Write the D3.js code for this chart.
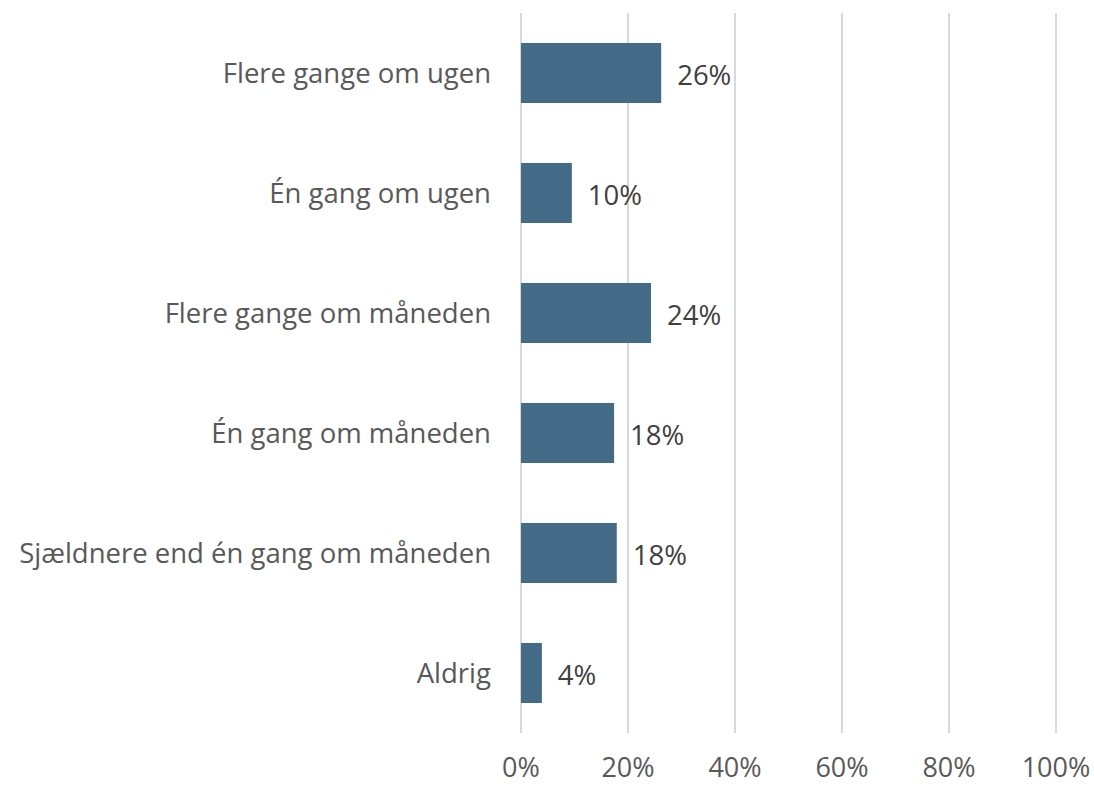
<!DOCTYPE html>
<html>
<head>
<meta charset="utf-8">
<script src="https://cdn.jsdelivr.net/npm/d3@7"></script>
<style>
  body { margin: 0; background: #fff; }
  text { font-family: "Open Sans", sans-serif; }
</style>
</head>
<body>
<div id="chart"></div>
<script>
// categories top to bottom
var categories = [
  "Flere gange om ugen",
  "Én gang om ugen",
  "Flere gange om måneden",
  "Én gang om måneden",
  "Sjældnere end én gang om måneden",
  "Aldrig"
];
var values = [0.262, 0.095, 0.243, 0.174, 0.179, 0.039];
var valueLabels = ["26%", "10%", "24%", "18%", "18%", "4%"];
var ticks = [0, 0.2, 0.4, 0.6, 0.8, 1.0];

var width = 1094, height = 787;
var margin = {top: 13, right: 38, bottom: 54, left: 521};

var svg = d3.select("#chart").append("svg")
  .attr("width", width)
  .attr("height", height);

var x = d3.scaleLinear()
  .domain([0, 1])
  .range([margin.left, width - margin.right]);

var y = d3.scaleBand()
  .domain(categories)
  .range([margin.top, height - margin.bottom])
  .paddingInner(0.5)
  .paddingOuter(0.25);

// gridlines
svg.selectAll("line.grid")
  .data(ticks).enter()
  .append("line")
  .attr("x1", function(d) { return x(d); })
  .attr("x2", function(d) { return x(d); })
  .attr("y1", margin.top)
  .attr("y2", height - margin.bottom)
  .style("stroke", "#d9d9d9")
  .style("stroke-width", 2);

// bars
svg.selectAll("rect.bar")
  .data(categories).enter()
  .append("rect")
  .attr("x", x(0))
  .attr("y", function(d) { return y(d); })
  .attr("width", function(d, i) { return x(values[i]) - x(0); })
  .attr("height", y.bandwidth())
  .style("fill", "#436a87");

// value labels
svg.selectAll("text.val")
  .data(categories).enter()
  .append("text")
  .attr("x", function(d, i) { return x(values[i]) + 16; })
  .attr("y", function(d) { return y(d) + y.bandwidth() / 2 + 2; })
  .attr("dy", "0.35em")
  .style("font-size", "27.5px")
  .style("fill", "#404040")
  .text(function(d, i) { return valueLabels[i]; });

// category labels
svg.selectAll("text.cat")
  .data(categories).enter()
  .append("text")
  .attr("x", margin.left - 30)
  .attr("y", function(d) { return y(d) + y.bandwidth() / 2; })
  .attr("dy", "0.35em")
  .attr("text-anchor", "end")
  .style("font-size", "27.5px")
  .style("fill", "#595959")
  .text(function(d) { return d; });

// x axis tick labels
svg.selectAll("text.tick")
  .data(ticks).enter()
  .append("text")
  .attr("x", function(d) { return x(d); })
  .attr("y", 768)
  .attr("dy", "0.35em")
  .attr("text-anchor", "middle")
  .style("font-size", "27px")
  .style("fill", "#595959")
  .text(function(d) { return d3.format(".0%")(d); });
</script>
</body>
</html>
